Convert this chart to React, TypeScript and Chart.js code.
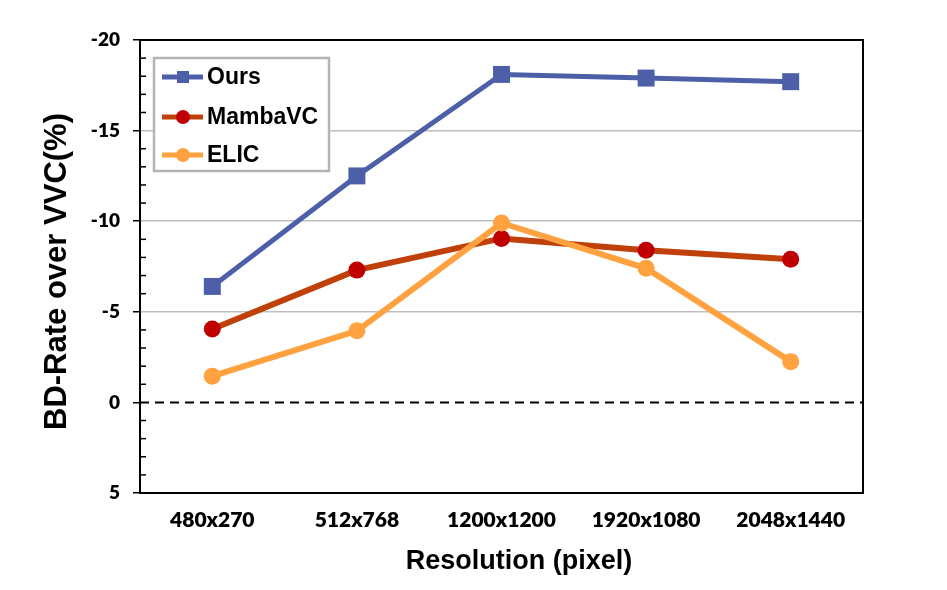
import React, { useEffect, useRef } from 'react';
import { Chart, registerables } from 'chart.js';

Chart.register(...registerables);

const categories = ['480x270', '512x768', '1200x1200', '1920x1080', '2048x1440'];
const oursValues = [-6.4, -12.5, -18.1, -17.9, -17.7];
const mambaValues = [-4.05, -7.3, -9.05, -8.4, -7.9];
const elicValues = [-1.45, -3.95, -9.9, -7.4, -2.25];
const seriesLabels = ['Ours', 'MambaVC', 'ELIC'];
const yTitle = 'BD-Rate over VVC(%)';
const xTitle = 'Resolution (pixel)';

const BLUE = '#4D5FA8';
const MAMBA_LINE = '#BF4109';
const MAMBA_POINT = '#C00000';
const ORANGE = '#FFA23F';

const decorPlugin = {
  id: 'decor',
  beforeDatasetsDraw(chart: any) {
    const { ctx, chartArea } = chart;
    const y = chart.scales.y;
    const y0 = y.getPixelForValue(0);
    ctx.save();
    ctx.strokeStyle = '#000';
    ctx.lineWidth = 2;
    ctx.setLineDash([9, 6]);
    ctx.beginPath();
    ctx.moveTo(chartArea.left, y0);
    ctx.lineTo(chartArea.right, y0);
    ctx.stroke();
    ctx.restore();
  },
  afterDraw(chart: any) {
    const { ctx, chartArea } = chart;
    const y = chart.scales.y;
    ctx.save();
    ctx.strokeStyle = '#000';
    ctx.lineWidth = 2;
    ctx.beginPath();
    ctx.moveTo(chartArea.left, chartArea.top);
    ctx.lineTo(chartArea.right, chartArea.top);
    ctx.lineTo(chartArea.right, chartArea.bottom);
    ctx.stroke();
    ctx.lineWidth = 1.5;
    y.ticks.forEach((t: any) => {
      if (t.value % 5 !== 0) {
        const py = y.getPixelForValue(t.value);
        ctx.beginPath();
        ctx.moveTo(chartArea.left, py);
        ctx.lineTo(chartArea.left + 6, py);
        ctx.stroke();
      }
    });
    ctx.fillStyle = '#000';
    ctx.font = 'bold 31px "Liberation Sans", Arial, sans-serif';
    ctx.textAlign = 'center';
    ctx.textBaseline = 'middle';
    ctx.save();
    ctx.translate(57, (chartArea.top + chartArea.bottom) / 2 + 5);
    ctx.rotate(-Math.PI / 2);
    ctx.fillText(yTitle, 0, 0);
    ctx.restore();
    ctx.font = 'bold 27px "Liberation Sans", Arial, sans-serif';
    ctx.fillText(xTitle, 519, 562);

    const lx = 154, ly = 58, lw = 175, lh = 113;
    ctx.fillStyle = '#fff';
    ctx.fillRect(lx, ly, lw, lh);
    ctx.strokeStyle = '#B4B4B4';
    ctx.lineWidth = 2.5;
    ctx.strokeRect(lx, ly, lw, lh);
    const rows = [77, 117, 155];
    chart.data.datasets.forEach((ds: any, i: number) => {
      const ry = rows[i];
      ctx.strokeStyle = ds.borderColor;
      ctx.lineWidth = 5;
      ctx.beginPath();
      ctx.moveTo(162, ry);
      ctx.lineTo(203, ry);
      ctx.stroke();
      ctx.fillStyle = ds.pointBackgroundColor;
      if (ds.pointStyle === 'rect') {
        ctx.fillRect(183 - 6, ry - 6, 12, 12);
      } else {
        ctx.beginPath();
        ctx.arc(183, ry, 7, 0, Math.PI * 2);
        ctx.fill();
      }
      ctx.fillStyle = '#000';
      ctx.font = 'bold 23px "Liberation Sans", Arial, sans-serif';
      ctx.textAlign = 'left';
      ctx.textBaseline = 'middle';
      ctx.fillText(ds.label, 207, ry + 1);
    });
    ctx.restore();
  },
};

export default function App() {
  const ref = useRef<HTMLCanvasElement>(null);
  useEffect(() => {
    if (!ref.current) return;
    const chart = new Chart(ref.current, {
      type: 'line',
      data: {
        labels: categories,
        datasets: [
          {
            label: seriesLabels[0],
            data: oursValues,
            order: 0,
            borderColor: BLUE,
            backgroundColor: BLUE,
            pointBackgroundColor: BLUE,
            pointBorderColor: BLUE,
            pointStyle: 'rect',
            pointRadius: 12,
            pointBorderWidth: 0,
            borderWidth: 5,
          },
          {
            label: seriesLabels[1],
            data: mambaValues,
            order: 2,
            borderColor: MAMBA_LINE,
            backgroundColor: MAMBA_POINT,
            pointBackgroundColor: MAMBA_POINT,
            pointBorderColor: MAMBA_POINT,
            pointStyle: 'circle',
            pointRadius: 8.5,
            pointBorderWidth: 0,
            borderWidth: 6,
          },
          {
            label: seriesLabels[2],
            data: elicValues,
            order: 1,
            borderColor: ORANGE,
            backgroundColor: ORANGE,
            pointBackgroundColor: ORANGE,
            pointBorderColor: ORANGE,
            pointStyle: 'circle',
            pointRadius: 8.5,
            pointBorderWidth: 0,
            borderWidth: 6,
          },
        ],
      },
      options: {
        responsive: false,
        animation: false,
        layout: { padding: { top: 40, right: 84, left: 0, bottom: 0 } },
        plugins: { legend: { display: false }, tooltip: { enabled: false }, title: { display: false } },
        scales: {
          x: {
            offset: true,
            grid: { display: true, drawOnChartArea: false, drawTicks: false },
            border: { display: true, color: '#000', width: 2 },
            ticks: {
              color: '#000',
              padding: 15,
              font: { family: 'Lato, "Open Sans", sans-serif', weight: 800, size: 21 },
            },
            afterFit: (s: any) => { s.height = 97; },
          },
          y: {
            min: -20,
            max: 5,
            reverse: true,
            border: { display: true, color: '#000', width: 2 },
            grid: {
              color: (c: any) => {
                const v = c.tick?.value;
                if (v === undefined) return 'rgba(0,0,0,0)';
                if (v % 5 === 0 && v !== -20 && v !== 0 && v !== 5) return '#BEBEBE';
                return 'rgba(0,0,0,0)';
              },
              tickColor: (c: any) => (c.tick && c.tick.value % 5 === 0 ? '#000' : 'rgba(0,0,0,0)'),
              lineWidth: 1.5,
              tickWidth: 1.5,
              tickLength: 7,
            },
            ticks: {
              stepSize: 1,
              autoSkip: false,
              color: '#000',
              padding: 13,
              font: { family: 'Lato, "Open Sans", sans-serif', weight: 800, size: 19 },
              callback: (v: any) => (Number(v) % 5 === 0 ? String(v) : ''),
            },
            afterFit: (s: any) => { s.width = 140; },
          },
        },
      },
      plugins: [decorPlugin],
    });
    return () => chart.destroy();
  }, []);
  return (
    <div style={{ position: 'absolute', left: 0, top: 0, width: 947, height: 590, background: '#fff' }}>
      <canvas ref={ref} width={947} height={590} style={{ width: 947, height: 590 }} />
    </div>
  );
}
